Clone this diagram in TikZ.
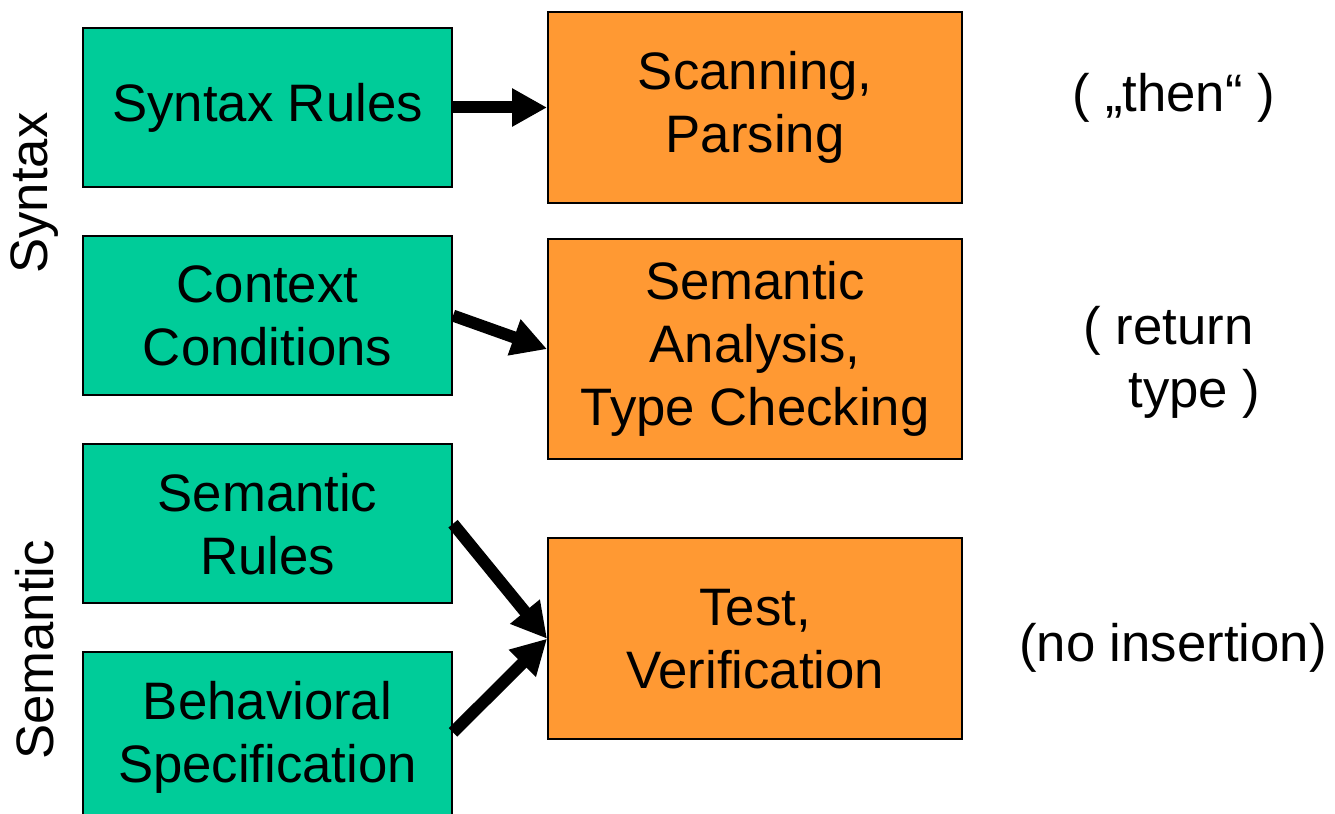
\documentclass[tikz,border=0pt]{standalone}
\usepackage{fontspec}
\setmainfont{Liberation Sans}
\usetikzlibrary{arrows.meta,positioning}
\definecolor{rulegreen}{HTML}{00CC99}
\definecolor{toolorange}{HTML}{FF9933}

\begin{document}
\begin{tikzpicture}[>={Triangle[length=3.5mm,width=3.6mm]}]
        \tikzset{gblock/.style= {draw, line width=0.6pt, rectangle, fill=rulegreen, align=center, minimum width=3.69cm, minimum height=1.59cm, font=\fontsize{15}{17.9}\selectfont},
        oblock/.style={draw, line width=0.6pt, rectangle, fill=toolorange, align=center, minimum width=4.14cm, font=\fontsize{15}{17.9}\selectfont},
        note/.style={align=left, font=\fontsize{15}{17.9}\selectfont},
        side/.style={rotate=90, font=\fontsize{15}{17.9}\selectfont},
        link/.style={->, line width=1.2mm},
        }
        \useasboundingbox (0,0) rectangle (13.35,-8.14);
        \node [gblock] at (2.675,-1.075) (syn) {Syntax Rules};
        \node [gblock, below =0.47cm of syn] (ctx) {Context\\Conditions};
        \node [gblock, below =0.47cm of ctx] (sem) {Semantic\\Rules};
        \node [gblock, below =0.47cm of sem, minimum height=1.70cm] (beh) {Behavioral\\Specification};
        \node [oblock, right =0.94cm of syn, minimum height=1.91cm] (scan) {Scanning,\\Parsing};
        \node [oblock, below =0.34cm of scan, minimum height=2.20cm] (ana) {Semantic\\Analysis,\\Type Checking};
        \node [oblock, below =0.77cm of ana, minimum height=2.01cm] (test) {Test,\\Verification};
        \node [note] at (11.74,-0.98) (then) {( „then“ )};
        \node [note] at (11.72,-3.62) (ret) {( return\\\hspace{0.45cm}type )};
        \node [note] at (11.73,-6.48) (noins) {(no insertion)};
        \node [side] at (0.35,-1.93) (synlab) {Syntax};
        \node [side] at (0.35,-6.50) (semlab) {Semantic};

%% paths
        \path[draw,link] (syn.east) -- (scan.west);
        \path[draw,link] (ctx.east) -- (ana.west);
        \path[draw,link] (sem.east) -- (test.west);
        \path[draw,link] ([yshift=0.05cm]beh.east) -- (test.west);
    \end{tikzpicture}
\end{document}
